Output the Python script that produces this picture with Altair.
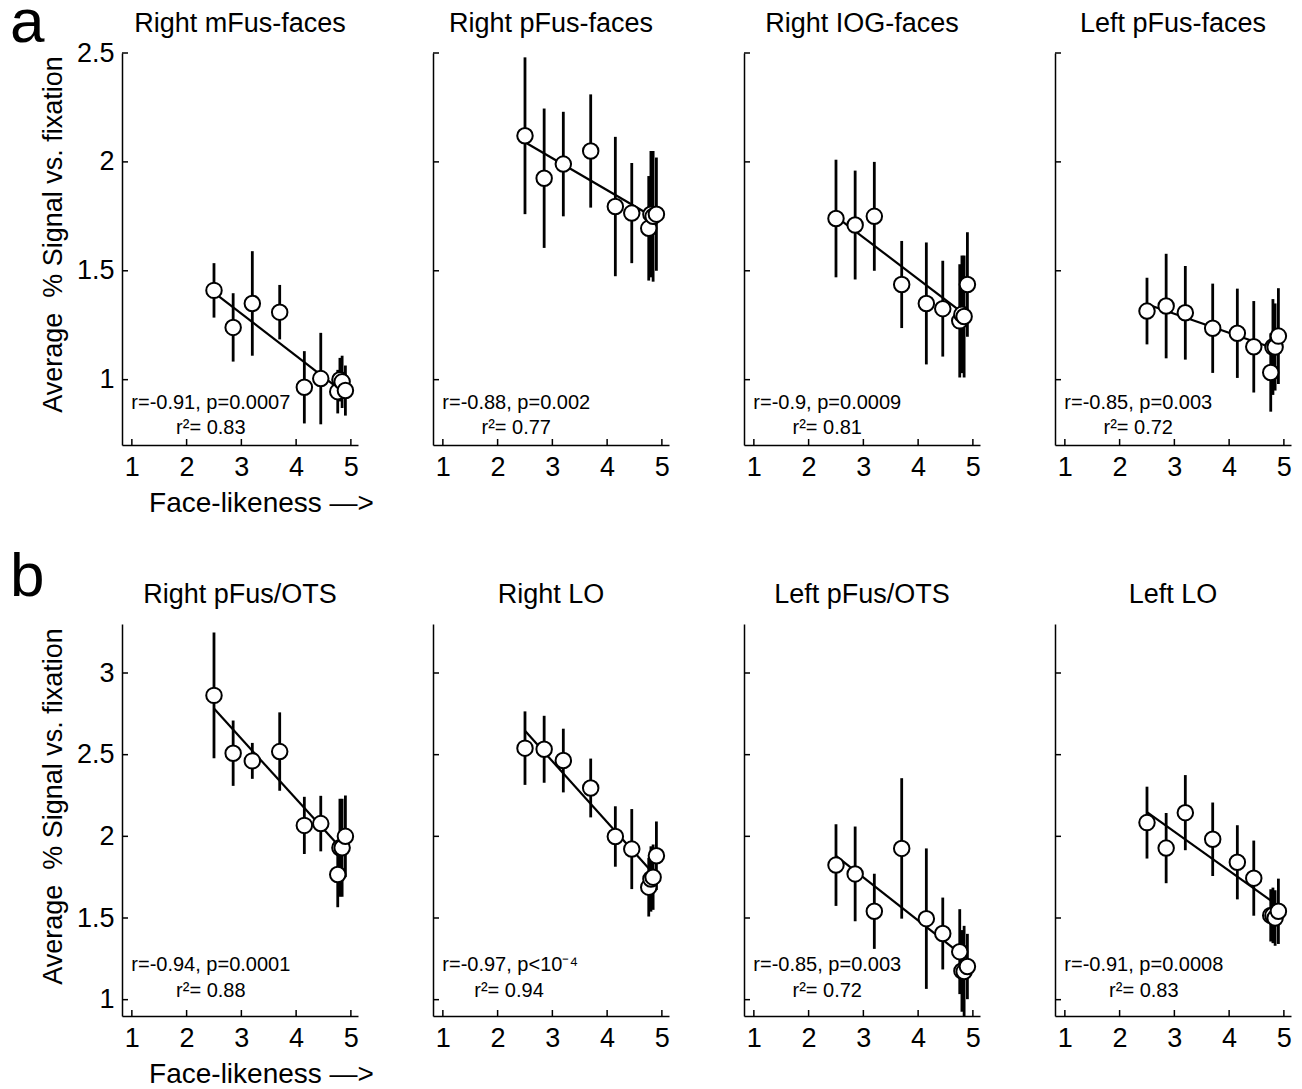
import altair as alt
import pandas as pd

# ---------------- data ----------------
x_vals = [2.5, 2.85, 3.2, 3.7, 4.15, 4.45, 4.76, 4.8, 4.84, 4.9]

panel_titles = ["Right mFus-faces", "Right pFus-faces", "Right IOG-faces", "Left pFus-faces",
                "Right pFus/OTS", "Right LO", "Left pFus/OTS", "Left LO"]

means = [
    [1.41, 1.24, 1.35, 1.31, 0.965, 1.005, 0.945, 1.0, 0.99, 0.95],
    [2.12, 1.925, 1.99, 2.05, 1.795, 1.765, 1.695, 1.76, 1.75, 1.76],
    [1.74, 1.71, 1.75, 1.437, 1.35, 1.326, 1.27, 1.30, 1.29, 1.437],
    [1.315, 1.338, 1.307, 1.236, 1.213, 1.151, 1.033, 1.15, 1.15, 1.20],
    [2.863, 2.509, 2.462, 2.519, 2.067, 2.078, 1.766, 1.93, 1.93, 2.0],
    [2.54, 2.533, 2.464, 2.296, 1.999, 1.922, 1.689, 1.739, 1.75, 1.881],
    [1.824, 1.77, 1.541, 1.926, 1.496, 1.405, 1.294, 1.176, 1.172, 1.203],
    [2.084, 1.928, 2.145, 1.982, 1.841, 1.744, 1.516, 1.516, 1.50, 1.541],
]

errors = [
    [0.125, 0.157, 0.24, 0.125, 0.166, 0.21, 0.10, 0.10, 0.12, 0.115],
    [0.36, 0.32, 0.24, 0.26, 0.32, 0.23, 0.24, 0.29, 0.30, 0.26],
    [0.27, 0.25, 0.25, 0.20, 0.28, 0.22, 0.26, 0.27, 0.28, 0.24],
    [0.153, 0.24, 0.215, 0.205, 0.205, 0.21, 0.18, 0.22, 0.20, 0.22],
    [0.385, 0.20, 0.11, 0.24, 0.175, 0.17, 0.20, 0.30, 0.30, 0.25],
    [0.225, 0.205, 0.195, 0.18, 0.185, 0.245, 0.18, 0.20, 0.20, 0.21],
    [0.25, 0.29, 0.23, 0.43, 0.43, 0.22, 0.26, 0.25, 0.28, 0.20],
    [0.22, 0.215, 0.23, 0.225, 0.227, 0.23, 0.16, 0.17, 0.17, 0.20],
]

fit_x = [2.5, 4.77]
fit_y = [
    [1.40, 0.96], [2.09, 1.757], [1.749, 1.315], [1.346, 1.148],
    [2.782, 1.945], [2.646, 1.80], [1.881, 1.282], [2.148, 1.605],
]

stat_text = ["r=-0.91, p=0.0007", "r=-0.88, p=0.002", "r=-0.9, p=0.0009", "r=-0.85, p=0.003",
             "r=-0.94, p=0.0001", "r=-0.97, p<10\u207b\u2074", "r=-0.85, p=0.003", "r=-0.91, p=0.0008"]
r2_text = ["0.83", "0.77", "0.81", "0.72", "0.88", "0.94", "0.72", "0.83"]

x_ticks = [1, 2, 3, 4, 5]
y_ticks = [[1, 1.5, 2, 2.5], [1, 1.5, 2, 2.5, 3]]
y_domains = [[0.7, 2.5], [0.9, 3.3]]
x_domain = [0.82, 5.13]
row_letters = ["a", "b"]

# ---------------- styling ----------------
W, H = 236, 392
FONT = "Liberation Sans"
ANN_FS = 20
LABEL_FS = 27
ann_y = [[0.895, 0.776], [1.21, 1.053]]
letter_y = [-11, -28]
ytitle_y = [H / 2 - 15, H / 2 - 14]

CW = {'r': 0.333, '=': 0.584, '-': 0.333, '.': 0.278, ',': 0.278, ' ': 0.278, 'p': 0.556,
      '<': 0.584, '\u207b': 0.333, '\u2074': 0.333, '\u00b2': 0.333}


def text_w(s):
    return sum(CW.get(c, 0.556) for c in s)


px_per_unit = W / (x_domain[1] - x_domain[0])


def panel(i):
    row, col = divmod(i, 4)
    first = col == 0
    xs = alt.Scale(domain=x_domain, nice=False, zero=False)
    ys = alt.Scale(domain=y_domains[row], nice=False, zero=False)

    x_axis_kw = dict(values=x_ticks, ticks=False, grid=False, domainColor="black", domainWidth=1.5,
                     labelFont=FONT, labelFontSize=LABEL_FS, labelColor="black", labelPadding=9,
                     labelFlush=False, format="~g")
    if first:
        x_axis = alt.Axis(title="Face-likeness \u2014>", titleFont=FONT, titleFontSize=28,
                          titleFontWeight="normal", titleColor="black", titlePadding=9,
                          titleX=139, titleAlign="center", **x_axis_kw)
    else:
        x_axis = alt.Axis(title=None, **x_axis_kw)

    y_axis_kw = dict(values=y_ticks[row], ticks=False, grid=False, domainColor="black",
                     domainWidth=1.5, labelFont=FONT, labelFontSize=LABEL_FS, labelColor="black",
                     labelPadding=8, labelFlush=False, format="~g")
    if first:
        y_axis = alt.Axis(title="Average\u00a0\u00a0% Signal vs. fixation", titleFont=FONT,
                          titleFontSize=27, titleFontWeight="normal", titleColor="black",
                          titlePadding=9, titleY=ytitle_y[row], **y_axis_kw)
    else:
        y_axis = alt.Axis(title=None, labels=False, **y_axis_kw)

    def X(field):
        return alt.X(field, scale=xs, axis=x_axis)

    def Y(field):
        return alt.Y(field, scale=ys, axis=y_axis)

    df = pd.DataFrame({
        "x": x_vals,
        "y": means[i],
        "lo": [m - e for m, e in zip(means[i], errors[i])],
        "hi": [m + e for m, e in zip(means[i], errors[i])],
    })
    fit = pd.DataFrame({"x": fit_x, "y": fit_y[i]})

    fitline = alt.Chart(fit).mark_line(color="black", strokeWidth=2.2).encode(
        x=X("x:Q"), y=Y("y:Q"))
    bars = alt.Chart(df).mark_rule(color="black", strokeWidth=2.8, clip=True).encode(
        x=X("x:Q"), y=Y("lo:Q"), y2="hi:Q")
    pts = alt.Chart(df).mark_point(shape="circle", size=240, strokeWidth=2, stroke="black",
                                   fill="white", filled=False, fillOpacity=1, opacity=1).encode(
        x=X("x:Q"), y=Y("y:Q"))

    w1 = text_w(stat_text[i]) * ANN_FS / px_per_unit
    ann1 = pd.DataFrame({"x": [0.99], "y": [ann_y[row][0]], "t": [stat_text[i]]})
    ann2 = pd.DataFrame({"x": [0.99 + w1 / 2], "y": [ann_y[row][1]], "t": ["r\u00b2= " + r2_text[i]]})
    t1 = alt.Chart(ann1).mark_text(font=FONT, fontSize=ANN_FS, align="left",
                                   baseline="middle", color="black").encode(
        x=X("x:Q"), y=Y("y:Q"), text="t:N")
    t2 = alt.Chart(ann2).mark_text(font=FONT, fontSize=ANN_FS, align="center",
                                   baseline="middle", color="black").encode(
        x=X("x:Q"), y=Y("y:Q"), text="t:N")

    yt = alt.Chart(pd.DataFrame({"v": y_ticks[row]})).mark_rule(color="black", strokeWidth=1.5).encode(
        y=Y("v:Q"), x=alt.value(0), x2=alt.value(6))
    xt = alt.Chart(pd.DataFrame({"v": x_ticks})).mark_rule(color="black", strokeWidth=1.5).encode(
        x=X("v:Q"), y=alt.value(H), y2=alt.value(H - 6))

    ttl = alt.Chart(pd.DataFrame({"t": [panel_titles[i]]})).mark_text(
        font=FONT, fontSize=27, align="center", baseline="alphabetic", color="black").encode(
        text="t:N", x=alt.value(W / 2), y=alt.value(-21))

    layers = [fitline, bars, pts, t1, t2, yt, xt, ttl]
    if first:
        letter = alt.Chart(pd.DataFrame({"t": [row_letters[row]]})).mark_text(
            font=FONT, fontSize=62, align="left", baseline="alphabetic", color="black").encode(
            text="t:N", x=alt.value(-112), y=alt.value(letter_y[row]))
        layers.append(letter)

    return alt.layer(*layers).properties(width=W, height=H)


row_a = alt.hconcat(*[panel(i) for i in range(4)], spacing=75, bounds="flush")
row_b = alt.hconcat(*[panel(i) for i in range(4, 8)], spacing=75, bounds="flush")

chart = alt.vconcat(row_a, row_b, spacing=29).properties(
    padding={"left": 2, "top": -16, "right": 0, "bottom": 0},
    background="white",
).configure_view(stroke=None)

chart.save("out.html", embed_options={"renderer": "svg", "actions": False})
